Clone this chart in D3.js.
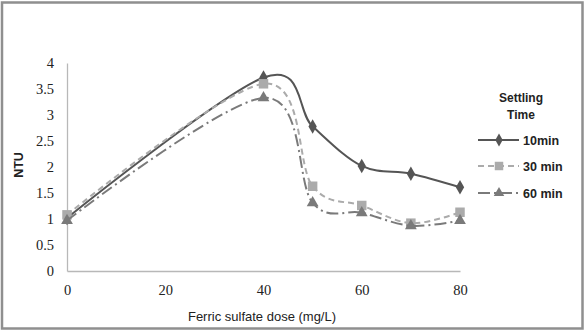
<!DOCTYPE html>
<html>
<head>
<meta charset="utf-8">
<script src="https://cdn.jsdelivr.net/npm/d3@7"></script>
<style>
  html, body { margin: 0; padding: 0; background: #fff; }
  svg { display: block; }
  .tick text { font-family: "Liberation Serif", serif; font-size: 14.5px; fill: #222; }
</style>
</head>
<body>
<svg id="chart" width="585" height="331"></svg>
<script>
// chart data
const doses = [0, 40, 50, 60, 70, 80];
const ntu10 = [1.02, 3.72, 2.78, 2.02, 1.87, 1.61];
const ntu30 = [1.08, 3.60, 1.63, 1.26, 0.92, 1.13];
const ntu60 = [0.97, 3.33, 1.31, 1.12, 0.87, 0.97];
const seriesNames = ['10min', '30 min', '60 min'];
const xTicks = [0, 20, 40, 60, 80];
const yTicks = [0, 0.5, 1, 1.5, 2, 2.5, 3, 3.5, 4];

const svg = d3.select('#chart');
const W = 585, H = 331;

// outer frame
svg.append('rect').attr('x', 0).attr('y', 0).attr('width', W).attr('height', H).attr('fill', '#fff');
svg.append('rect')
  .attr('x', 2).attr('y', 2.5).attr('width', W - 4.5).attr('height', H - 5)
  .attr('fill', 'none').attr('stroke', '#8f8f8f').attr('stroke-width', 2.5);

const x = d3.scaleLinear().domain([0, 80]).range([67, 460]);
const y = d3.scaleLinear().domain([0, 4]).range([271, 63]);

// axes
const xAxis = svg.append('g').attr('transform', `translate(0,${y(0)})`)
  .call(d3.axisBottom(x).tickValues(xTicks).tickSize(0).tickPadding(14));
const yAxis = svg.append('g').attr('transform', `translate(${x(0)},0)`)
  .call(d3.axisLeft(y).tickValues(yTicks).tickSize(0).tickPadding(13).tickFormat(d3.format('')));
[xAxis, yAxis].forEach(a => a.select('.domain').attr('stroke', '#b8b8b8').attr('stroke-width', 1.3));

svg.append('text')
  .attr('x', 262).attr('y', 321)
  .attr('text-anchor', 'middle')
  .attr('font-family', '"Liberation Sans", sans-serif').attr('font-size', 13)
  .attr('fill', '#222')
  .text('Ferric sulfate dose (mg/L)');

svg.append('text')
  .attr('transform', 'translate(23,165) rotate(-90)')
  .attr('text-anchor', 'middle')
  .attr('font-family', '"Liberation Sans", sans-serif').attr('font-size', 12.5).attr('font-weight', 'bold')
  .attr('fill', '#222')
  .text('NTU');

const styles = [
  { color: '#555555', dash: null, sym: d3.symbolDiamond, size: 60 },
  { color: '#ababab', dash: '6,4', sym: d3.symbolSquare, size: 90 },
  { color: '#7a7a7a', dash: '12,4,2,4', sym: d3.symbolTriangle, size: 60 }
];
const seriesData = [ntu10, ntu30, ntu60];

const line = d3.line()
  .x(d => x(d[0])).y(d => y(d[1]))
  .curve(d3.curveCardinal.tension(0));

// series drawn in order, later ones on top (as in the reference)
[0, 1, 2].forEach(i => {
  const pts = doses.map((dv, j) => [dv, seriesData[i][j]]);
  const st = styles[i];
  svg.append('path')
    .datum(pts)
    .attr('d', line)
    .attr('fill', 'none')
    .attr('stroke', st.color)
    .attr('stroke-width', 2)
    .attr('stroke-dasharray', st.dash);
  svg.append('g').selectAll('path')
    .data(pts).join('path')
    .attr('transform', d => `translate(${x(d[0])},${y(d[1])})`)
    .attr('d', d3.symbol().type(st.sym).size(st.size))
    .attr('fill', st.color);
});

// legend
const lg = svg.append('g');
lg.append('text').attr('x', 521).attr('y', 102)
  .attr('text-anchor', 'middle')
  .attr('font-family', '"Liberation Sans", sans-serif').attr('font-size', 12).attr('font-weight', 'bold')
  .attr('fill', '#222').text('Settling');
lg.append('text').attr('x', 521).attr('y', 119)
  .attr('text-anchor', 'middle')
  .attr('font-family', '"Liberation Sans", sans-serif').attr('font-size', 12).attr('font-weight', 'bold')
  .attr('fill', '#222').text('Time');

const legendY = [140, 166, 193];
seriesNames.forEach((name, i) => {
  const st = styles[i];
  const ly = legendY[i];
  lg.append('line')
    .attr('x1', 478).attr('x2', 519).attr('y1', ly).attr('y2', ly)
    .attr('stroke', st.color).attr('stroke-width', 2)
    .attr('stroke-dasharray', st.dash);
  lg.append('path')
    .attr('transform', `translate(499,${ly})`)
    .attr('d', d3.symbol().type(st.sym).size(st.size * 0.8))
    .attr('fill', st.color);
  lg.append('text')
    .attr('x', 523).attr('y', ly + 4.5)
    .attr('font-family', '"Liberation Sans", sans-serif').attr('font-size', 12.5).attr('font-weight', 'bold')
    .attr('fill', '#222').text(name);
});
</script>
</body>
</html>
